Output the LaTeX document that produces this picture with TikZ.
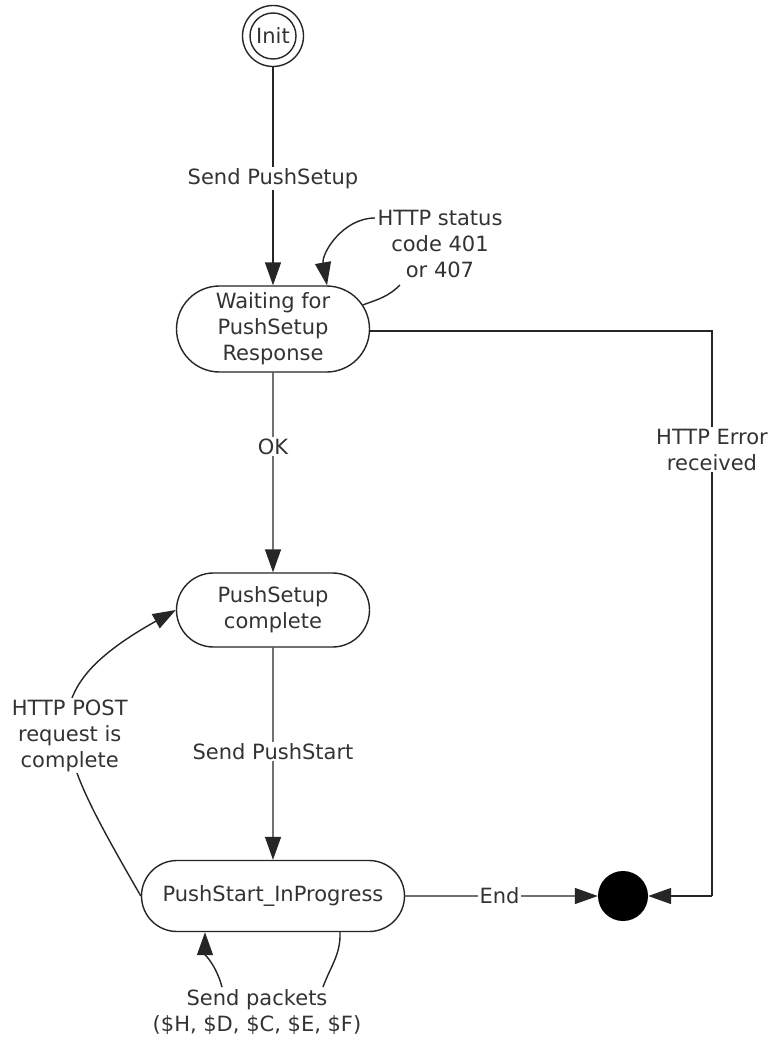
\documentclass[tikz,border=0pt]{standalone}
\usepackage{fontspec}
\setmainfont{DejaVu Sans}
\usetikzlibrary{arrows.meta,shapes.misc}
\definecolor{ink}{HTML}{333333}
\definecolor{wire}{HTML}{262626}
\begin{document}
\begin{tikzpicture}[x=1pt,y=-1pt,
  every node/.style={text=ink,font=\fontsize{21}{26}\selectfont},
  statebox/.style={draw=wire,line width=1.4pt,rounded rectangle,align=center,inner sep=0pt},
  lbl/.style={fill=white,align=center,inner sep=1.5pt},
  conn/.style={draw=wire,line width=1.4pt},
  arr/.style={conn,-{Triangle[length=23pt,width=16pt]}}]
\useasboundingbox[fill=white] (0,0) rectangle (769,1043);

% states
\node[circle,draw=wire,line width=1.4pt,minimum size=61pt,inner sep=0pt] (init) at (273,36) {};
\node[circle,draw=wire,line width=1.4pt,minimum size=46pt,inner sep=0pt] (initin) at (init.center) {Init};
\node[statebox,minimum width=193pt,minimum height=86pt] (wait) at (273,329) {Waiting for\\PushSetup\\Response};
\node[statebox,minimum width=193pt,minimum height=74pt] (comp) at (273,610) {PushSetup\\complete};
\node[statebox,minimum width=263pt,minimum height=71pt] (prog) at (273,896) {PushStart\_InProgress};
\node[circle,fill=black,minimum size=50pt,inner sep=0pt] (final) at (623,896) {};

% main transitions
\draw[arr] (init) -- node[lbl,pos=0.51]{Send PushSetup} (wait);
\draw[arr] (wait) -- node[lbl,pos=0.37]{OK} (comp);
\draw[arr] (comp) -- node[lbl,pos=0.49]{Send PushStart} (prog);
\draw[arr] (prog) -- node[lbl,pos=0.49]{End} (final);

% HTTP error
\coordinate (c1) at (712,331);
\coordinate (c2) at (712,896);
\draw[conn] (wait.east |- c1) -- (c1) -- node[lbl,pos=0.21]{HTTP Error\\received} (c2);
\draw[arr] (c2) -- (final);

% self loop on waiting
\node[align=center,inner sep=0pt] (lab1) at (440,244) {HTTP status\\code 401\\or 407};
\coordinate (l1) at (375,218);
\coordinate (l2) at (400,285);
\draw[conn] (wait.15) to[out=20,in=225] (l2);
\draw[arr] (l1) to[out=180,in=100] ([xshift=54pt]wait.north);

% POST loop
\draw[arr] (prog.west) .. controls (54,745) and (26,694) .. node[lbl,pos=0.47]{HTTP POST\\request is\\complete} (comp.west);

% send packets loop
\node[align=center,inner sep=0pt] (lab2) at (257,1012) {Send packets\\(\$H, \$D, \$C, \$E, \$F)};
\coordinate (p1) at (323,987);
\coordinate (p2) at (222,987);
\draw[conn] ([xshift=67pt]prog.south) to[out=-88,in=70] (p1);
\draw[arr] (p2) to[out=105,in=-90] ([xshift=-68pt]prog.south);
\end{tikzpicture}
\end{document}
